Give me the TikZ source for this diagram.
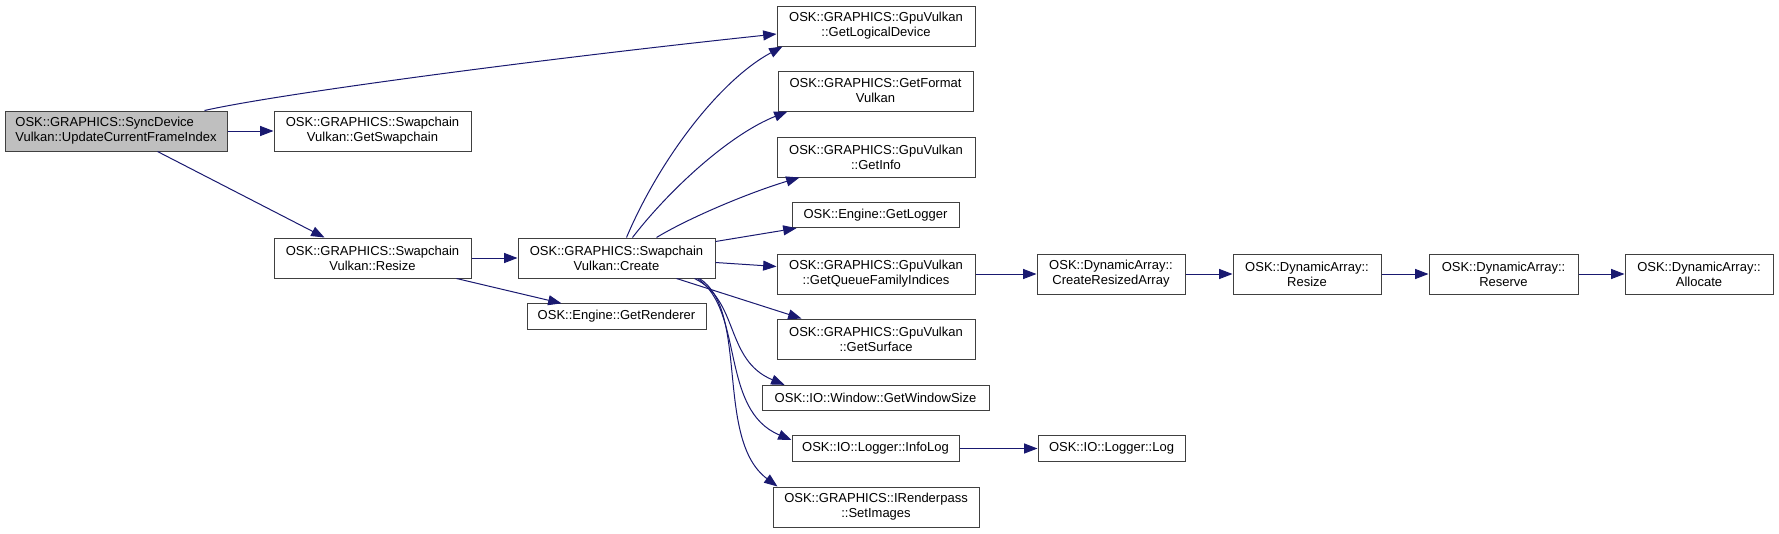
\documentclass[tikz,border=0pt]{standalone}
\usepackage{fontspec}
\setmainfont{Liberation Sans}
\usetikzlibrary{arrows.meta,calc}
\definecolor{edgeblue}{HTML}{191970}
\definecolor{boxline}{HTML}{404040}
\definecolor{rootfill}{HTML}{BFBFBF}
\begin{document}
\begin{tikzpicture}[x=0.75pt,y=-0.75pt,
  fn/.style={draw=boxline, line width=0.75pt, fill=white, inner sep=0pt, align=center,
    font=\fontsize{9.75pt}{11.25pt}\selectfont, minimum height=30pt},
  one/.style={minimum height=19pt},
  root/.style={fill=rootfill, align=left},
  call/.style={draw=edgeblue, line width=0.75pt, -{Triangle[length=10pt,width=7.5pt]}}]
\useasboundingbox (0,0) rectangle (1779,533);
% nodes
\node[fn, root, minimum width=166.5pt] (sync) at (116,131) {OSK::GRAPHICS::SyncDevice\\Vulkan::UpdateCurrentFrameIndex};
\node[fn, minimum width=147.75pt] (swap) at (372.5,131) {OSK::GRAPHICS::Swapchain\\Vulkan::GetSwapchain};
\node[fn, minimum width=147.75pt] (resize) at (372.5,258) {OSK::GRAPHICS::Swapchain\\Vulkan::Resize};
\node[fn, minimum width=147.75pt] (create) at (616.5,258) {OSK::GRAPHICS::Swapchain\\Vulkan::Create};
\node[fn, one, minimum width=134.25pt] (renderer) at (616.5,316.5) {OSK::Engine::GetRenderer};
\node[fn, minimum width=148.5pt] (logical) at (876,26) {OSK::GRAPHICS::GpuVulkan\\::GetLogicalDevice};
\node[fn, minimum width=146.25pt] (format) at (875.5,91) {OSK::GRAPHICS::GetFormat\\Vulkan};
\node[fn, minimum width=148.5pt] (info) at (876,157) {OSK::GRAPHICS::GpuVulkan\\::GetInfo};
\node[fn, one, minimum width=125.25pt] (logger) at (875.5,215) {OSK::Engine::GetLogger};
\node[fn, minimum width=148.5pt] (gqfi) at (876,274) {OSK::GRAPHICS::GpuVulkan\\::GetQueueFamilyIndices};
\node[fn, minimum width=148.5pt] (surface) at (876,339) {OSK::GRAPHICS::GpuVulkan\\::GetSurface};
\node[fn, one, minimum width=170.25pt] (window) at (875.5,398) {OSK::IO::Window::GetWindowSize};
\node[fn, one, minimum width=125.25pt] (infolog) at (875.5,448.5) {OSK::IO::Logger::InfoLog};
\node[fn, minimum width=154.5pt] (setimages) at (876,507) {OSK::GRAPHICS::IRenderpass\\::SetImages};
\node[fn, minimum width=111pt] (cra) at (1111,274) {OSK::DynamicArray::\\CreateResizedArray};
\node[fn, minimum width=111pt] (daresize) at (1307,274) {OSK::DynamicArray::\\Resize};
\node[fn, minimum width=111.75pt] (reserve) at (1503.5,274) {OSK::DynamicArray::\\Reserve};
\node[fn, minimum width=111pt] (allocate) at (1699,274) {OSK::DynamicArray::\\Allocate};
\node[fn, one, minimum width=110.25pt] (log) at (1111.5,448.5) {OSK::IO::Logger::Log};
% connectors
\draw[call] ($(sync.north west)+(200,0)$) .. controls +(75,-17) and +(-227,24) .. ($(logical.west)+(0,8)$);
\draw[call] (sync.east) -- (swap.west);
\draw[call] ($(sync.south west)+(153,0)$) -- ($(resize.north west)+(51,0)$);
\draw[call] (resize.east) -- (create.west);
\draw[call] ($(resize.south west)+(183,0)$) -- ($(renderer.north west)+(35,0)$);
\draw[call] ($(create.north west)+(109,0)$) .. controls +(33,-78) and +(-63,34) .. ($(logical.south west)+(6,0)$);
\draw[call] ($(create.north west)+(115,0)$) .. controls +(37,-48) and +(-58,23) .. ($(format.south west)+(10,0)$);
\draw[call] ($(create.north west)+(139,0)$) .. controls +(33,-20) and +(-50,15) .. ($(info.south west)+(23,0)$);
\draw[call] ($(create.north east)+(0,4)$) -- ($(logger.south west)+(5,0)$);
\draw[call] ($(create.north east)+(0,25)$) -- ($(gqfi.north west)+(0,13)$);
\draw[call] ($(create.south west)+(159,0)$) -- ($(surface.north west)+(25,0)$);
\draw[call] ($(create.south west)+(177,0)$) .. controls +(45,22) and +(-60,-25) .. ($(window.north west)+(23,0)$);
\draw[call] ($(create.south west)+(180,0)$) .. controls +(47,32) and +(-72,-30) .. ($(infolog.west)+(0,-8.5)$);
\draw[call] ($(create.south west)+(182,0)$) .. controls +(50,32) and +(-63,-47) .. ($(setimages.north west)+(5,0)$);
\draw[call] (gqfi.east) -- (cra.west);
\draw[call] (cra.east) -- (daresize.west);
\draw[call] (daresize.east) -- (reserve.west);
\draw[call] (reserve.east) -- (allocate.west);
\draw[call] (infolog.east) -- (log.west);
\end{tikzpicture}
\end{document}
